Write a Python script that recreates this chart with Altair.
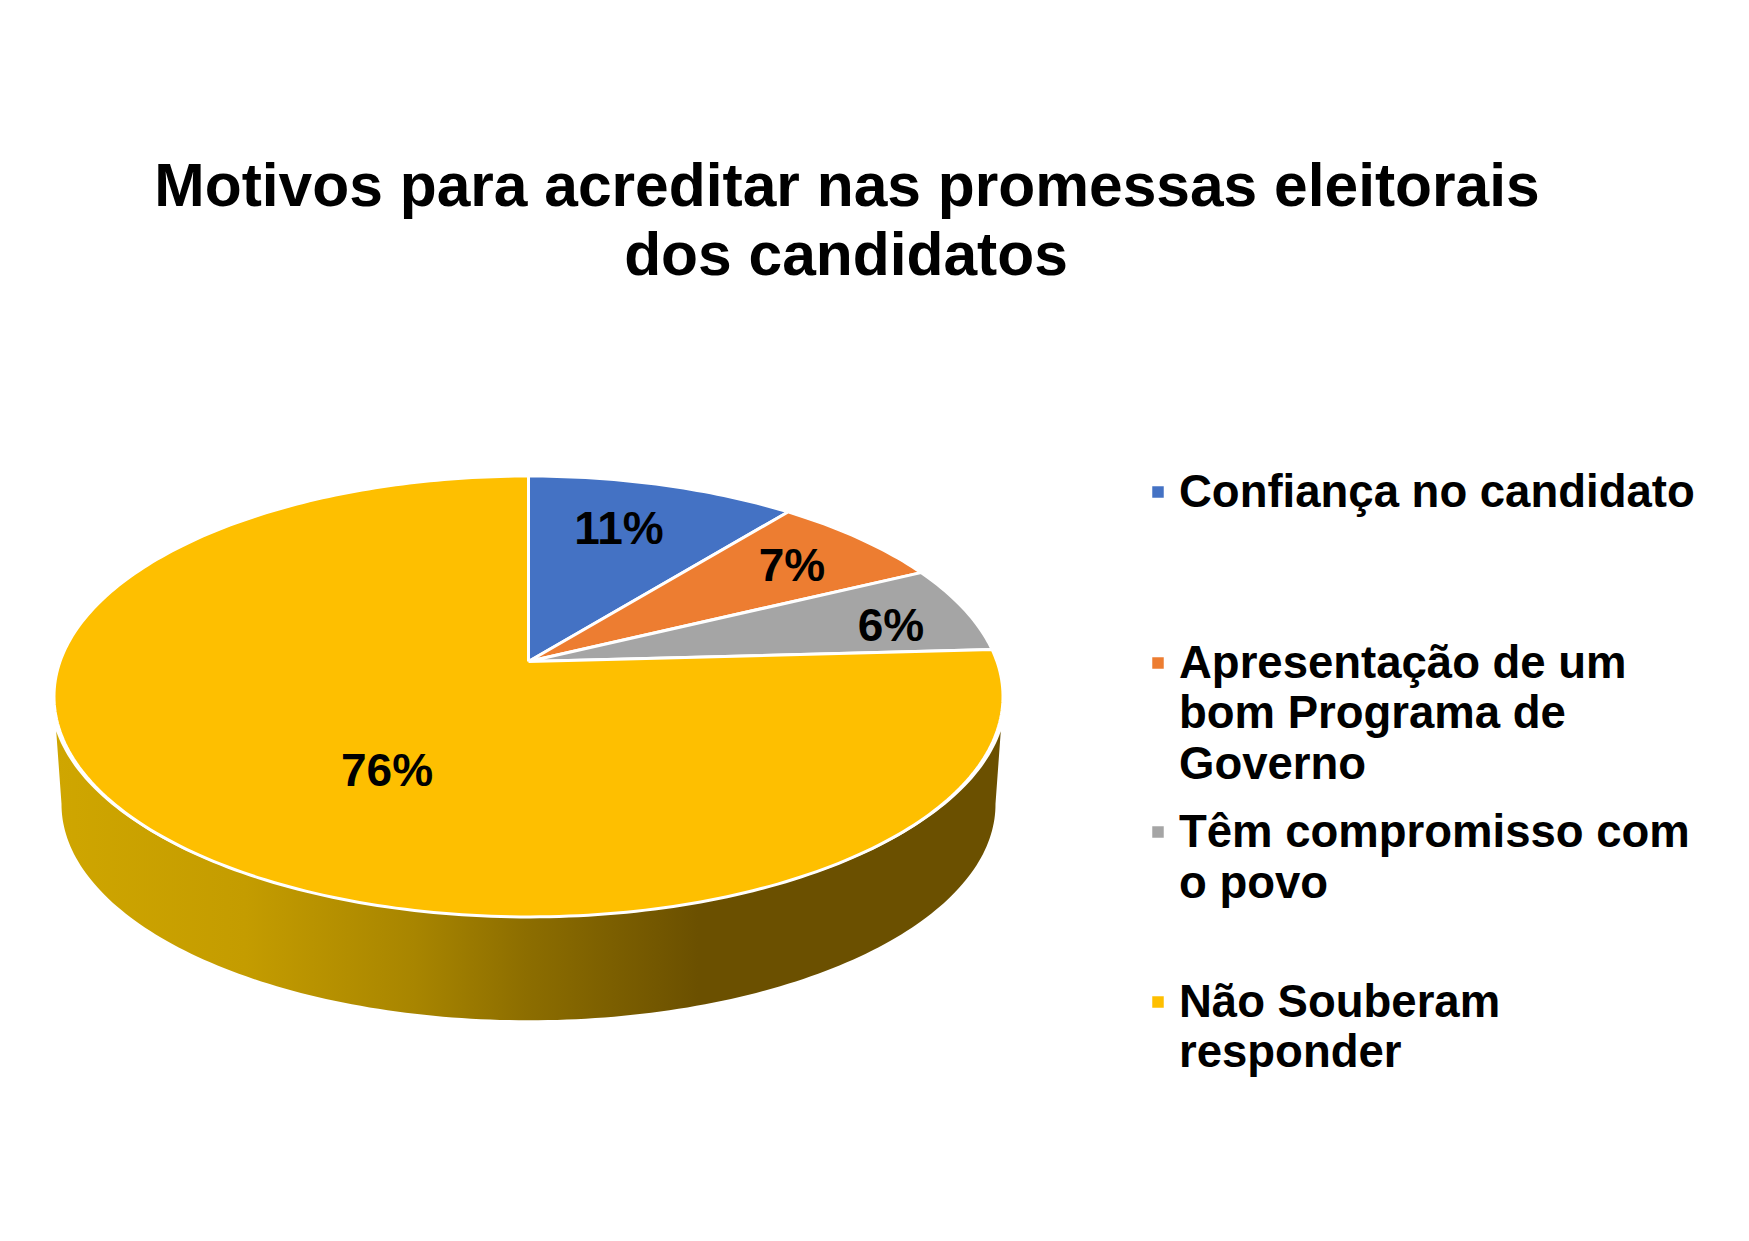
import math
import altair as alt
import pandas as pd

# ---- chart values ----
categories = ["Confiança no candidato", "Apresentação de um bom Programa de Governo",
              "Têm compromisso com o povo", "Não Souberam responder"]
values = [10.7, 7.0, 6.4, 75.9]
colors = ["#4472C4", "#ED7D31", "#A5A5A5", "#FEBF00"]
value_labels = ["11%", "7%", "6%", "76%"]
label_x = [619, 792, 891, 387]
label_y = [544, 581, 641, 786]

title_lines = ["Motivos para acreditar nas promessas eleitorais", "dos candidatos"]
title_x = [847, 846]
title_y = [206, 275]

legend_lines = [
    ("Confiança no candidato", 507),
    ("Apresentação de um", 678),
    ("bom Programa de", 728),
    ("Governo", 779),
    ("Têm compromisso com", 847),
    ("o povo", 898),
    ("Não Souberam", 1017),
    ("responder", 1067),
]
legend_text_x = 1179
legend_square_x = 1158
legend_square_y = [492, 663, 832, 1002]

# ---- pie geometry (perspective-tilted disc) ----
CX, CY, K = 528.5, 661.5, 0.1586
ROOT = math.sqrt(1 - K * K)
A = 474.5 * ROOT
B = 214.9


def disc(deg, a=A, b=B, cy=CY):
    t = math.radians(deg)
    s = 1 / (1 + K * math.cos(t))
    return CX + a * math.sin(t) * s, cy - b * math.cos(t) * s


def arc_points(d0, d1, **kw):
    n = max(2, int(abs(d1 - d0)) + 1)
    return [disc(d0 + (d1 - d0) * i / (n - 1), **kw) for i in range(n)]


scale_x = alt.Scale(domain=[8, 1741], range=[0, 1733], nice=False, zero=False)
scale_y = alt.Scale(domain=[8, 1233], range=[0, 1225], nice=False, zero=False)
X = lambda: alt.X("x:Q", scale=scale_x, axis=None)
Y = lambda: alt.Y("y:Q", scale=scale_y, axis=None)


def polygon(points, **mark):
    df = pd.DataFrame({"x": [p[0] for p in points], "y": [p[1] for p in points],
                       "i": list(range(len(points)))})
    return alt.Chart(df).mark_line(**mark).encode(x=X(), y=Y(), order="i:Q")


layers = []

# side wall
side_gradient = alt.LinearGradient(
    gradient="linear", x1=0, x2=1, y1=0, y2=0,
    stops=[
        alt.GradientStop(color="#CFA600", offset=0),
        alt.GradientStop(color="#C49C00", offset=0.2),
        alt.GradientStop(color="#A88500", offset=0.38),
        alt.GradientStop(color="#8C6D00", offset=0.5),
        alt.GradientStop(color="#6B5000", offset=0.68),
        alt.GradientStop(color="#6B5000", offset=1),
    ],
)
side = arc_points(108, 252, a=A * 1.008) + arc_points(261, 99, a=467 * ROOT, b=210.6, cy=770)
side.append(side[0])
layers.append(polygon(side, fill=side_gradient, stroke=None, interpolate="linear"))

# top slices
total = sum(values)
cum = 0
for v, c in zip(values, colors):
    d0 = 360 * cum / total
    cum += v
    d1 = 360 * cum / total
    pts = [(CX, CY)] + arc_points(d0, d1) + [(CX, CY)]
    layers.append(polygon(pts, fill=c, stroke="white", strokeWidth=3, strokeJoin="round"))

# value labels
layers.append(alt.Chart(pd.DataFrame({"x": label_x, "y": label_y, "t": value_labels}))
              .mark_text(font="Liberation Sans", fontWeight="bold", fontSize=46, color="#000000",
                         align="center", baseline="alphabetic")
              .encode(x=X(), y=Y(), text="t:N"))

# title
layers.append(alt.Chart(pd.DataFrame({"x": title_x, "y": title_y, "t": title_lines}))
              .mark_text(font="Liberation Sans", fontWeight="bold", fontSize=60.5, color="#000000",
                         align="center", baseline="alphabetic")
              .encode(x=X(), y=Y(), text="t:N"))

# legend squares
layers.append(alt.Chart(pd.DataFrame({"x": [legend_square_x] * 4, "y": legend_square_y, "c": colors}))
              .mark_square(size=132, opacity=1)
              .encode(x=X(), y=Y(), color=alt.Color("c:N", scale=None)))

# legend text
layers.append(alt.Chart(pd.DataFrame({"x": [legend_text_x] * len(legend_lines),
                                      "y": [l[1] for l in legend_lines],
                                      "t": [l[0] for l in legend_lines]}))
              .mark_text(font="Liberation Sans", fontWeight="bold", fontSize=45.5, color="#000000",
                         align="left", baseline="alphabetic")
              .encode(x=X(), y=Y(), text="t:N"))

chart = alt.layer(*layers).properties(
    width=1733, height=1225, padding=0, background="white",
    autosize=alt.AutoSizeParams(type="none"),
).configure_view(stroke=None)

chart.save("out.html", embed_options={"renderer": "svg", "actions": False})
